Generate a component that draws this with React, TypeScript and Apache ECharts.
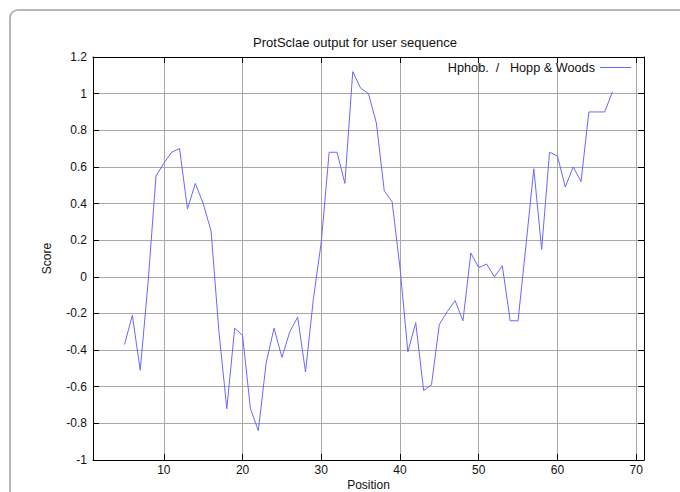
import React, { useEffect, useRef } from "react";
import * as echarts from "echarts";

const positions = [
  5, 6, 7, 8, 9, 10, 11, 12, 13, 14, 15, 16, 17, 18, 19, 20, 21, 22, 23, 24,
  25, 26, 27, 28, 29, 30, 31, 32, 33, 34, 35, 36, 37, 38, 39, 40, 41, 42, 43,
  44, 45, 46, 47, 48, 49, 50, 51, 52, 53, 54, 55, 56, 57, 58, 59, 60, 61, 62,
  63, 64, 65, 66, 67,
];
const scores = [
  -0.37, -0.21, -0.51, -0.03, 0.55, 0.62, 0.68, 0.7, 0.37, 0.51, 0.4, 0.25,
  -0.3, -0.72, -0.28, -0.32, -0.72, -0.84, -0.47, -0.28, -0.44, -0.3, -0.22,
  -0.52, -0.12, 0.19, 0.68, 0.68, 0.51, 1.12, 1.03, 1.0, 0.84, 0.47, 0.41, 0.05,
  -0.41, -0.25, -0.62, -0.59, -0.26, -0.19, -0.13, -0.24, 0.13, 0.05, 0.07, 0.0,
  0.06, -0.24, -0.24, 0.17, 0.59, 0.15, 0.68, 0.66, 0.49, 0.6, 0.52, 0.9, 0.9,
  0.9, 1.01,
];
const xTicks = [10, 20, 30, 40, 50, 60, 70];
const xRange = [1, 71];
const yRange = [-1, 1.2];
const yStep = 0.2;

const titleText = "ProtSclae output for user sequence";
const seriesName = "Hphob.  /   Hopp & Woods";
const xName = "Position";
const yName = "Score";

const FONT = "'Liberation Sans', Arial, sans-serif";
const TEXT = "#111";
const GRID = "#a8a8a8";
const LINE = "#6868ff";

export default function App() {
  const ref = useRef<HTMLDivElement>(null);
  useEffect(() => {
    if (!ref.current) return;
    const chart = echarts.init(ref.current, null, { renderer: "svg" });
    const axisLine = { show: true, onZero: false, lineStyle: { color: "#000", width: 1 } };
    const tick = { show: true, inside: true, length: 6, lineStyle: { color: "#000", width: 1 } };
    chart.setOption({
      animation: false,
      backgroundColor: "#fff",
      textStyle: { fontFamily: FONT },
      graphic: [
        {
          type: "rect",
          shape: { x: 10, y: 10, width: 720, height: 540, r: 8 },
          style: { fill: "none", stroke: "#a0a0a0", lineWidth: 1.5 },
          silent: true,
        },
        {
          type: "text",
          x: 355,
          y: 42,
          style: {
            text: titleText,
            fill: TEXT,
            font: `13px ${FONT}`,
            textAlign: "center",
            textVerticalAlign: "middle",
            align: "center",
            verticalAlign: "middle",
          },
        },
      ],
      legend: {
        data: [{ name: seriesName, icon: "rect" }],
        right: 44,
        top: 56,
        align: "right",
        itemWidth: 31,
        itemHeight: 1,
        itemStyle: { color: LINE, borderWidth: 0 },
        textStyle: { fontSize: 12.7, color: TEXT, fontFamily: FONT },
      },
      grid: { left: 93, right: 36, top: 57, bottom: 32, outerBoundsMode: "none", containLabel: false },
      xAxis: [
        {
          type: "value",
          min: xRange[0],
          max: xRange[1],
          position: "bottom",
          axisLine,
          axisTick: { ...tick, customValues: xTicks },
          axisLabel: { customValues: xTicks, margin: 4, fontSize: 12, color: TEXT, fontFamily: FONT },
          splitLine: { show: true, lineStyle: { color: GRID, width: 1 } },
          name: xName,
          nameLocation: "middle",
          nameGap: 19,
          nameMoveOverlap: false,
          nameTextStyle: { fontSize: 12, lineHeight: 12, color: TEXT, fontFamily: FONT },
        },
        {
          type: "value",
          min: xRange[0],
          max: xRange[1],
          position: "top",
          axisLine,
          axisTick: { ...tick, customValues: xTicks },
          axisLabel: { show: false, customValues: xTicks },
          splitLine: { show: false },
        },
      ],
      yAxis: [
        {
          type: "value",
          min: yRange[0],
          max: yRange[1],
          interval: yStep,
          position: "left",
          axisLine,
          axisTick: tick,
          axisLabel: { margin: 6, fontSize: 12, color: TEXT, fontFamily: FONT },
          splitLine: { show: true, lineStyle: { color: GRID, width: 1 } },
          name: yName,
          nameLocation: "middle",
          nameGap: 40,
          nameMoveOverlap: false,
          nameTextStyle: { fontSize: 12, color: TEXT, fontFamily: FONT },
        },
        {
          type: "value",
          min: yRange[0],
          max: yRange[1],
          interval: yStep,
          position: "right",
          axisLine,
          axisTick: tick,
          axisLabel: { show: false },
          splitLine: { show: false },
        },
      ],
      series: [
        {
          name: seriesName,
          type: "line",
          xAxisIndex: 0,
          yAxisIndex: 0,
          data: positions.map((p, i) => [p, scores[i]]),
          symbol: "none",
          showSymbol: false,
          lineStyle: { color: LINE, width: 1 },
          itemStyle: { color: LINE },
        },
      ],
    });
    return () => chart.dispose();
  }, []);
  return (
    <div
      ref={ref}
      style={{ position: "fixed", left: 0, top: 0, width: 680, height: 492, background: "#fff" }}
    />
  );
}
